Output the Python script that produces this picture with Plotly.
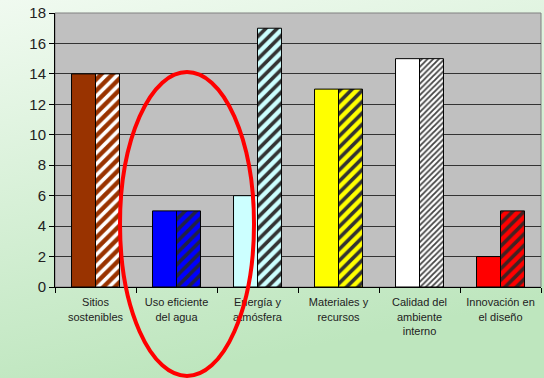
import plotly.graph_objects as go

categories = ["Sitios<br>sostenibles", "Uso eficiente<br>del agua", "Energía y<br>atmósfera",
              "Materiales y<br>recursos", "Calidad del<br>ambiente<br>interno", "Innovación en<br>el diseño"]
solid_values = [14, 5, 6, 13, 15, 2]
hatched_values = [14, 5, 17, 13, 15, 5]
bar_colors = ["#993300", "#0000FF", "#CCFFFF", "#FFFF00", "#FFFFFF", "#FF0000"]
stripe_colors = ["#FFFFFF", "#222244", "#333333", "#333333", "#444444", "#442222"]
stripe_sizes = [8, 8, 8, 8, 4, 8]
y_ticks = [0, 2, 4, 6, 8, 10, 12, 14, 16, 18]

W, H = 544, 378
L, R, T, B = 55, 3, 13, 91
BW = 0.296

fig = go.Figure()
fig.add_trace(go.Bar(x=categories, y=solid_values, offset=-BW, width=BW,
                     marker=dict(color=bar_colors, line=dict(color="#000000", width=1)),
                     showlegend=False))
for cat, val, col, sc, ss in zip(categories, hatched_values, bar_colors, stripe_colors, stripe_sizes):
    fig.add_trace(go.Bar(x=[cat], y=[val], offset=0, width=BW,
                         marker=dict(color=col, line=dict(color="#000000", width=1),
                                     pattern=dict(shape="/", fgcolor=sc, bgcolor=col,
                                                  size=ss, solidity=0.45, fgopacity=1,
                                                  fillmode="replace")),
                         showlegend=False))

grad_svg = ("data:image/svg+xml;utf8,<svg xmlns='http://www.w3.org/2000/svg' width='100' height='100' preserveAspectRatio='none'>"
            "<defs><linearGradient id='g' x1='0' y1='0' x2='0.3' y2='1'>"
            "<stop offset='0' stop-color='%23F0FAF0'/><stop offset='1' stop-color='%23BEE6BE'/>"
            "</linearGradient></defs><rect width='100' height='100' fill='url(%23g)'/></svg>")

pw, ph = W - L - R, H - T - B
fig.add_layout_image(dict(source=grad_svg, xref="paper", yref="paper",
                          x=-L / pw, y=1 + T / ph, sizex=W / pw, sizey=H / ph,
                          sizing="stretch", layer="below", xanchor="left", yanchor="top"))

# plot-area background over the gradient
fig.add_shape(type="rect", xref="paper", yref="paper", x0=0, x1=1, y0=0, y1=1,
              fillcolor="#C0C0C0", line=dict(color="#808080", width=1), layer="below")

# red ellipse highlighting "Uso eficiente del agua" (pixel-derived)
def px(xp):
    return (xp - L) / pw

def py(yp):
    return (H - B - yp) / ph

fig.add_shape(type="circle", xref="paper", yref="paper",
              x0=px(120), x1=px(254), y0=py(376), y1=py(72),
              line=dict(color="#FF0000", width=4), layer="above")

fig.update_layout(
    width=W, height=H, margin=dict(l=L, r=R, t=T, b=B),
    paper_bgcolor="#D4EED4", plot_bgcolor="rgba(0,0,0,0)",
    barmode="overlay",
    font=dict(family="Liberation Sans, Arial", color="#222222"),
)
fig.update_xaxes(type="category", tickson="boundaries", ticks="outside", ticklen=5,
                 tickcolor="#000000", showline=True, linecolor="#000000", linewidth=1,
                 tickfont=dict(size=11), ticklabelstandoff=5, showgrid=False,
                 categoryorder="array", categoryarray=categories)
fig.update_yaxes(range=[0, 18], tickvals=y_ticks, ticks="outside", ticklen=5,
                 tickcolor="#000000", showline=True, linecolor="#000000", linewidth=1,
                 showgrid=True, gridcolor="#333333", gridwidth=1, zeroline=False,
                 tickfont=dict(size=15))

fig.write_html("out.html")
